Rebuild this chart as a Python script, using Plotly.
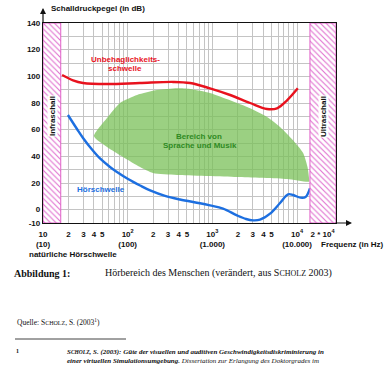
import plotly.graph_objects as go

# ---------------- data ----------------
# Unbehaglichkeitsschwelle (red)
red_freq = [16.8, 22.6, 29.7, 57, 139, 344, 545, 937, 1620, 2790, 4420, 5800, 7620, 10200]
red_db = [101, 97, 95, 94.2, 95, 95.8, 95, 91, 86, 80, 75.5, 76, 82, 91]

# Hörschwelle (blue)
blue_freq = [19.7, 25.2, 29.7, 37.9, 47.1, 61.8, 74.8, 101, 140, 184, 276, 415, 714, 937,
             1336, 1955, 2500, 3020, 3650, 4800, 6300, 7830, 8970, 11000, 12600, 14200]
blue_db = [71, 60.5, 53.8, 45.1, 38.4, 32, 28.3, 23, 18.1, 14.4, 10.3, 7.6, 4.8, 3.2,
           0.8, -4.3, -7, -8, -7.5, -3, 5, 11.5, 11, 9, 9.5, 16]

# Bereich von Sprache und Musik (green area outline)
green_freq = [40, 57, 81, 129, 222, 383, 545, 937, 1620, 2790, 4420, 6300, 8970, 11800, 13300, 13900,
              13900, 7620, 1950, 383, 199, 140, 88, 57, 40]
green_db = [55, 68.7, 80, 86, 89.7, 91, 90.5, 87.5, 82, 76, 69.5, 62, 52, 42.5, 32, 23,
            21, 23, 24.5, 26, 27.5, 32, 39.5, 47, 55]

# Infraschall / Ultraschall bounds (Hz)
infra_range = [10, 16.2]
ultra_range = [14200, 28840]
db_range = [-10, 140]

y_label_vals = [-10, 0, 20, 40, 60, 80, 100, 120, 140]
y_labels = ['-10', '0', '20', '40', '60', '80', '100', '120', '140']
y_minor_vals = [10, 30, 50, 70, 90, 110, 130]

x_label_vals = [10, 20, 30, 40, 50, 100, 200, 300, 400, 500, 1000, 2000, 3000, 4000, 5000, 10000, 20000]
x_labels = ['10<br>(10)', '2', '3', '4', '5',
            '10<sup>2</sup><br>(100)', '2', '3', '4', '5',
            '10<sup>3</sup><br>(1.000)', '2', '3', '4', '5',
            '10<sup>4</sup><br>(10.000)', '2 * 10<sup>4</sup>']
x_minor_vals = [60, 70, 80, 90, 600, 700, 800, 900, 6000, 7000, 8000, 9000]

# ---------------- figure ----------------
SANS = "Liberation Sans, Arial, sans-serif"
SERIF = "Liberation Serif, Times New Roman, serif"
L, R, T, B = 43, 336, 23, 223
W, H = 391, 366


def px(x):
    return (x - L) / (R - L)


def py(y):
    return (B - y) / (B - T)


fig = go.Figure()

fig.add_trace(go.Scatter(x=green_freq, y=green_db, mode='lines', fill='toself',
                         fillcolor='rgba(122,192,88,0.75)', line=dict(width=0, shape='spline', smoothing=0.6),
                         hoverinfo='skip'))
fig.add_trace(go.Scatter(x=red_freq, y=red_db, mode='lines',
                         line=dict(color='#e8121e', width=2.4, shape='spline'), hoverinfo='skip'))
fig.add_trace(go.Scatter(x=blue_freq, y=blue_db, mode='lines',
                         line=dict(color='#1d6fe0', width=2.4, shape='spline'), hoverinfo='skip'))

for rng in (infra_range, ultra_range):
    fig.add_trace(go.Scatter(
        x=[rng[0], rng[1], rng[1], rng[0], rng[0]],
        y=[db_range[0], db_range[0], db_range[1], db_range[1], db_range[0]],
        mode='lines', fill='toself', line=dict(color='#e060c8', width=1),
        fillcolor='white',
        fillpattern=dict(shape='\\', fgcolor='#e070d0', bgcolor='white', size=4, solidity=0.28),
        hoverinfo='skip'))

ann = []


def label(xp, yp, text, font, xanchor='center', **kw):
    ann.append(dict(x=px(xp), y=py(yp), xref='paper', yref='paper', text=text, showarrow=False,
                    xanchor=xanchor, yanchor='middle', font=font, **kw))


bold8 = dict(family=SANS, size=8, color='#111', weight='bold')
red8 = dict(family=SANS, size=8, color='#e8121e', weight='bold')
green8 = dict(family=SANS, size=8, color='#2f8a22', weight='bold')
blue8 = dict(family=SANS, size=8, color='#1d6fe0', weight='bold')

label(49, 9, 'Schalldruckpegel (in dB)', bold8, xanchor='left')
label(125, 59, 'Unbehaglichkeits-', red8)
label(125, 68, 'schwelle', red8)
label(199, 136, 'Bereich von', green8)
label(200, 145, 'Sprache und Musik', green8)
label(101, 189, 'Hörschwelle', blue8)
label(52, 116, 'Infraschall', bold8, textangle=-90, bgcolor='white', borderpad=0)
label(323, 117, 'Ultraschall', bold8, textangle=-90, bgcolor='white', borderpad=0)
label(352, 244, 'Frequenz (in Hz)', bold8)
label(73, 254, 'natürliche Hörschwelle', bold8)

# axis arrows
ann.append(dict(x=0, y=py(8), xref='paper', yref='paper', text='', showarrow=True,
                ax=0, ay=16, arrowhead=2, arrowsize=1, arrowwidth=1.2, arrowcolor='#111'))
ann.append(dict(x=px(352), y=0, xref='paper', yref='paper', text='', showarrow=True,
                ax=-18, ay=0, arrowhead=2, arrowsize=1, arrowwidth=1.2, arrowcolor='#111'))

# caption text
serif10 = dict(family=SERIF, size=10, color='#111')
label(12, 273, '<b>Abbildung 1:</b>', serif10, xanchor='left')
label(103, 273, "Hörbereich des Menschen (verändert, aus S<span style='font-size:8px'>CHOLZ</span> 2003)",
      serif10, xanchor='left')
label(15, 322, "Quelle: S<span style='font-size:6px'>CHOLZ</span>, S. (2003<sup>1</sup>)",
      dict(family=SERIF, size=7.5, color='#111'), xanchor='left')
label(14, 351, '<b>1</b>', dict(family=SERIF, size=6, color='#111'), xanchor='left')
label(65, 352, "<b><i>S<span style='font-size:5.5px'>CHOLZ</span>, S. (2003): Güte der visuellen und auditiven Geschwindigkeitsdiskriminierung in</i></b>",
      dict(family=SERIF, size=7, color='#111'), xanchor='left')
label(65, 361, "<b><i>einer virtuellen Simulationsumgebung.</i></b><i> Dissertation zur Erlangung des Doktorgrades im</i>",
      dict(family=SERIF, size=7, color='#111'), xanchor='left')

fig.update_layout(
    width=W, height=H, template='none',
    margin=dict(l=L, r=W - R, t=T, b=H - B, autoexpand=False),
    paper_bgcolor='white', plot_bgcolor='white', showlegend=False,
    annotations=ann,
    shapes=[dict(type='line', xref='paper', yref='paper', x0=px(15), x1=px(126), y0=py(339), y1=py(339),
                 line=dict(color='#111', width=0.8))],
)
grid = dict(showgrid=True, gridcolor='#c4c4c4', gridwidth=1)
fig.update_xaxes(type='log', range=[1, 4.46], tickvals=x_label_vals, ticktext=x_labels,
                 minor=dict(tickvals=x_minor_vals, ticks='', **grid), **grid,
                 zeroline=False, showline=True, linecolor='#111', linewidth=1.3, mirror=True, ticks='',
                 tickangle=0, ticklabelstandoff=3,
                 tickfont=dict(family=SANS, size=8, color='#111', weight='bold'),
                 automargin=False)
fig.update_yaxes(range=db_range, tickvals=y_label_vals, ticktext=y_labels,
                 minor=dict(tickvals=y_minor_vals, ticks='', **grid), **grid,
                 zeroline=False, showline=True, linecolor='#111', linewidth=1.3, mirror=True, ticks='',
                 tickfont=dict(family=SANS, size=8, color='#111', weight='bold'),
                 automargin=False)

fig.write_html("out.html", config={'displayModeBar': False},
               post_script="document.body.style.margin='0';document.body.style.overflow='hidden';")
